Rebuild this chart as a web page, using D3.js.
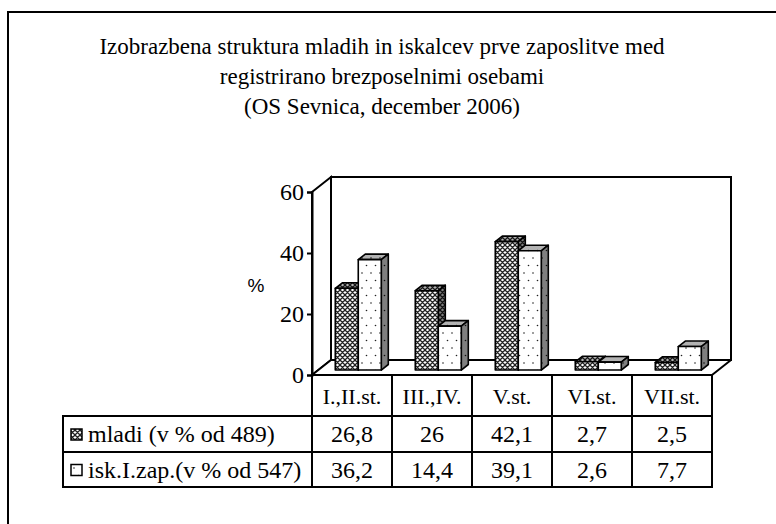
<!DOCTYPE html>
<html>
<head>
<meta charset="utf-8">
<script src="https://cdn.jsdelivr.net/npm/d3@7"></script>
<style>
  body { margin: 0; background: #fff; }
  text { font-family: "Liberation Serif", "Times New Roman", serif; fill: #000; }
</style>
</head>
<body>
<svg id="chart" width="776" height="524"></svg>
<script>
var categories = ["I.,II.st.", "III.,IV.", "V.st.", "VI.st.", "VII.st."];
var mladi = [26.8, 26, 42.1, 2.7, 2.5];
var iskalci = [36.2, 14.4, 39.1, 2.6, 7.7];
var seriesNames = ["mladi (v % od 489)", "isk.I.zap.(v % od 547)"];
var yTicks = [0, 20, 40, 60];
var titleLines = [
  "Izobrazbena struktura mladih in iskalcev prve zaposlitve med",
  "registrirano brezposelnimi osebami",
  "(OS Sevnica, december 2006)"
];

var serif = "'Liberation Serif', 'Times New Roman', serif";
var svg = d3.select("#chart");
var defs = svg.append("defs");

// fill patterns (crosshatch for mladi, dots for iskalci)
var p1 = defs.append("pattern").attr("id", "hatch")
  .attr("patternUnits", "userSpaceOnUse").attr("width", 5).attr("height", 5);
p1.append("rect").attr("width", 5).attr("height", 5).attr("fill", "#fff");
p1.append("path").attr("d", "M0,0L5,5M5,0L0,5M-1,4L1,6M4,-1L6,1M4,6L6,4M-1,1L1,-1")
  .attr("stroke", "#222").attr("stroke-width", 1.3);

var p2 = defs.append("pattern").attr("id", "dots")
  .attr("patternUnits", "userSpaceOnUse").attr("width", 9).attr("height", 15);
p2.append("rect").attr("width", 9).attr("height", 15).attr("fill", "#fff");
p2.append("circle").attr("cx", 2).attr("cy", 3).attr("r", 0.8).attr("fill", "#222");
p2.append("circle").attr("cx", 6.5).attr("cy", 10.5).attr("r", 0.8).attr("fill", "#222");

var fills = ["url(#hatch)", "url(#dots)"];

// outer frame
svg.append("rect").attr("x", 8).attr("y", 12).attr("width", 800).attr("height", 560)
  .attr("fill", "none").attr("stroke", "#000").attr("stroke-width", 2);

// title
svg.append("g").selectAll("text").data(titleLines).enter().append("text")
  .attr("x", 382).attr("y", function(d, i) { return 54 + i * 30; })
  .attr("text-anchor", "middle").style("font-family", serif).style("font-size", "23px")
  .text(function(d) { return d; });

var x = d3.scaleBand().domain(categories).range([312, 712]);
var y = d3.scaleLinear().domain([0, 60]).range([375, 192]);
var DX = 19, DY = -15;

var plot = svg.append("g");

// back wall, left wall, floor
var x0 = x.range()[0], x1 = x.range()[1], yb = y(0), yt = y(60);
plot.append("rect").attr("x", x0 + DX).attr("y", yt + DY)
  .attr("width", x1 - x0).attr("height", yb - yt)
  .attr("fill", "#fff").attr("stroke", "#000").attr("stroke-width", 2);
plot.append("path")
  .attr("d", "M" + x0 + "," + yt + "L" + (x0 + DX) + "," + (yt + DY) + "L" + (x0 + DX) + "," + (yb + DY) + "L" + x0 + "," + yb + "Z")
  .attr("fill", "#fff").attr("stroke", "#000").attr("stroke-width", 2);
plot.append("path")
  .attr("d", "M" + x0 + "," + yb + "L" + (x0 + DX) + "," + (yb + DY) + "L" + (x1 + DX) + "," + (yb + DY) + "L" + x1 + "," + yb + "Z")
  .attr("fill", "#fff").attr("stroke", "#000").attr("stroke-width", 2)
  .attr("stroke-linejoin", "round");

// 3d bars
var barW = 23, f0 = 0.33, fd = 0.37;
var ox = f0 * DX, oy = f0 * DY, ddx = fd * DX, ddy = fd * DY;
var bars = [];
categories.forEach(function(c, ci) {
  [mladi, iskalci].forEach(function(arr, si) {
    bars.push({ cat: c, s: si, v: arr[ci] });
  });
});

var g = plot.selectAll("g.bar").data(bars).enter().append("g").attr("class", "bar");
function bx(d) { return x(d.cat) + x.bandwidth() / 2 - barW + d.s * barW + ox; }
g.each(function(d) {
  var el = d3.select(this);
  var l = bx(d), r = l + barW, t = y(d.v) + oy, b = y(0) + oy;
  var front = "M" + l + "," + t + "L" + r + "," + t + "L" + r + "," + b + "L" + l + "," + b + "Z";
  var top = "M" + l + "," + t + "L" + (l + ddx) + "," + (t + ddy) + "L" + (r + ddx) + "," + (t + ddy) + "L" + r + "," + t + "Z";
  var side = "M" + r + "," + t + "L" + (r + ddx) + "," + (t + ddy) + "L" + (r + ddx) + "," + (b + ddy) + "L" + r + "," + b + "Z";
  [[top, 0.3], [side, 0.5], [front, 0]].forEach(function(f) {
    el.append("path").attr("d", f[0]).attr("fill", fills[d.s]);
    if (f[1] > 0) el.append("path").attr("d", f[0]).attr("fill", "#000").attr("opacity", f[1]);
    el.append("path").attr("d", f[0]).attr("fill", "none")
      .attr("stroke", "#000").attr("stroke-width", 1.6).attr("stroke-linejoin", "round");
  });
});

// y axis
var axis = svg.append("g").attr("transform", "translate(" + x0 + ",0)")
  .call(d3.axisLeft(y).tickValues(yTicks).tickSize(5).tickPadding(3));
axis.select(".domain").attr("stroke", "#000").attr("stroke-width", 2);
axis.selectAll(".tick line").attr("stroke", "#000").attr("stroke-width", 2);
axis.selectAll(".tick text").style("font-size", "24px")
  .style("font-family", serif).attr("fill", "#000");

svg.append("text").attr("x", 256).attr("y", 292).attr("text-anchor", "middle")
  .style("font-family", "'Liberation Sans', Arial, sans-serif").style("font-size", "19px")
  .text("%");

// data table
var rowY = [yb, 416, 452, 487];
var legX = 63;
var tbl = svg.append("g");
var fmt = function(v) { return String(v).replace(".", ","); };

// header row
tbl.selectAll("text.cat").data(categories).enter().append("text")
  .attr("class", "cat")
  .attr("x", function(d) { return x(d) + x.bandwidth() / 2; })
  .attr("y", (rowY[0] + rowY[1]) / 2 + 8)
  .attr("text-anchor", "middle").style("font-family", serif).style("font-size", "22px")
  .text(function(d) { return d; });

[mladi, iskalci].forEach(function(arr, si) {
  var cy = (rowY[si + 1] + rowY[si + 2]) / 2;
  tbl.selectAll("text.v" + si).data(arr).enter().append("text")
    .attr("x", function(d, i) { return x(categories[i]) + x.bandwidth() / 2; })
    .attr("y", cy + 8).attr("text-anchor", "middle")
    .style("font-family", serif).style("font-size", "24px")
    .text(fmt);
  tbl.append("rect").attr("x", legX + 8).attr("y", cy - 5).attr("width", 11).attr("height", 11)
    .attr("fill", fills[si]).attr("stroke", "#000").attr("stroke-width", 1.5);
  tbl.append("text").attr("x", legX + 25).attr("y", cy + 8)
    .style("font-family", serif).style("font-size", "24px")
    .text(seriesNames[si]);
});

// table grid
var lines = [];
lines.push([x0, rowY[0], x0, rowY[3]]);
categories.forEach(function(c) { lines.push([x(c) + x.bandwidth(), rowY[0], x(c) + x.bandwidth(), rowY[3]]); });
lines.push([legX, rowY[1], x1, rowY[1]]);
lines.push([legX, rowY[2], x1, rowY[2]]);
lines.push([legX, rowY[3], x1, rowY[3]]);
lines.push([legX, rowY[1], legX, rowY[3]]);
tbl.selectAll("line").data(lines).enter().append("line")
  .attr("x1", function(d) { return d[0]; }).attr("y1", function(d) { return d[1]; })
  .attr("x2", function(d) { return d[2]; }).attr("y2", function(d) { return d[3]; })
  .attr("stroke", "#000").attr("stroke-width", 2).attr("stroke-linecap", "square");
</script>
</body>
</html>
